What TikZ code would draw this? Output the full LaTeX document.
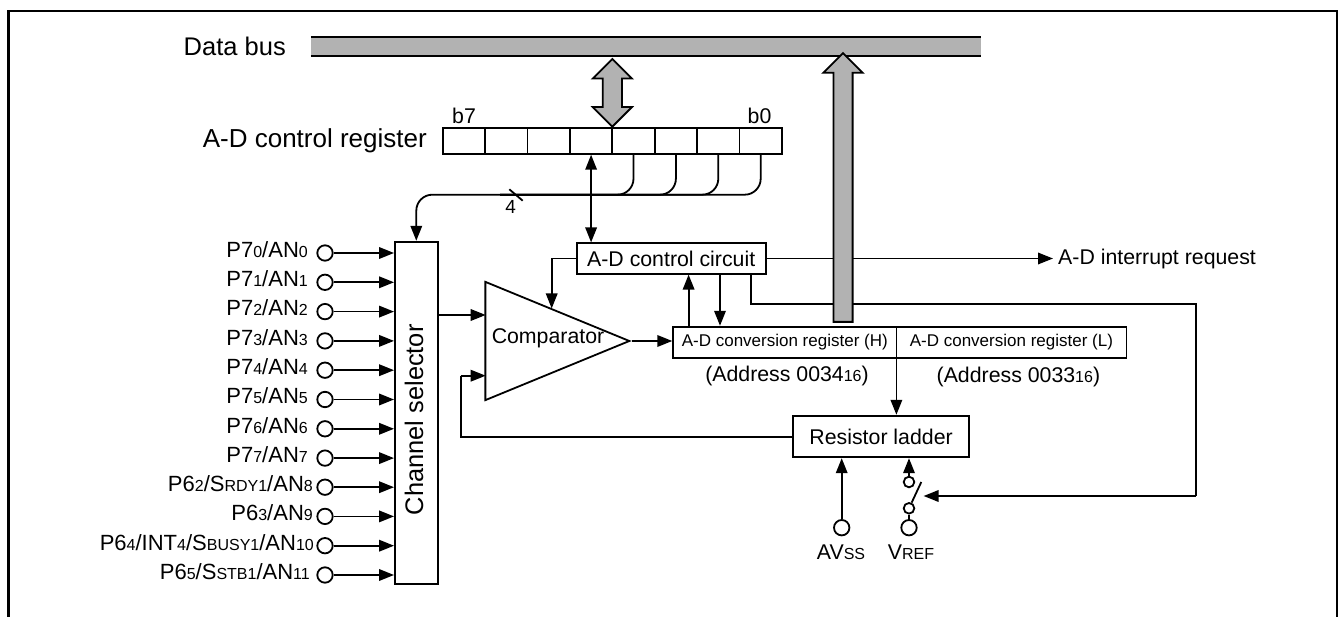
\documentclass[tikz,border=0pt]{standalone}
\usepackage{fontspec}
\setmainfont{Liberation Sans}
\usetikzlibrary{arrows.meta,positioning,calc,shapes.geometric,shapes.arrows}
\definecolor{adGray}{HTML}{B2B2B2}
\newcommand{\subtxt}[1]{{\fontsize{16}{16}\selectfont #1}}

\begin{document}
\begin{tikzpicture}[
  x=1pt,y=-1pt,
  font=\fontsize{21.3}{24}\selectfont,
  frameline/.style={line width=2.6pt,line cap=butt,line join=miter},
  block/.style={draw,line width=1.8pt,fill=white,inner sep=0pt},
  cell/.style={block,minimum width=42.4pt,minimum height=25.7pt},
  sig/.style={line width=1.8pt,-{Triangle[length=15pt,width=11.5pt]}},
  dblsig/.style={line width=1.8pt,{Triangle[length=15pt,width=11.5pt]}-{Triangle[length=15pt,width=11.5pt]}},
  wire/.style={line width=1.8pt},
  pinhole/.style={circle,draw,line width=1.8pt,fill=white,minimum size=15.4pt,inner sep=0pt},
  contact/.style={circle,draw,line width=1.8pt,fill=white,minimum size=10.6pt,inner sep=0pt},
  fatup/.style={single arrow,draw,line width=1.8pt,fill=adGray,rotate=90,inner sep=8.7pt,minimum height=268.7pt,minimum width=38pt,single arrow head extend=10pt},
  fatboth/.style={double arrow,draw,line width=1.8pt,fill=adGray,rotate=90,inner sep=8.7pt,minimum height=67.7pt,minimum width=38pt,double arrow head extend=10pt},
  pinlabel/.style={anchor=base east,inner sep=0pt,font=\fontsize{22}{24}\selectfont},
  bigtext/.style={inner sep=0pt,font=\fontsize{25.5}{28}\selectfont},
  regtext/.style={font=\fontsize{17}{20}\selectfont}
]
\useasboundingbox (0,0) rectangle (1339,617);
\draw[frameline] (8.5,617) -- (8.5,11) -- (1337,11) -- (1337,617);

\node[bigtext,anchor=east] (buslabel) at (286,46.5) {Data bus};
\node[fill=adGray,inner sep=0pt,minimum width=670pt,minimum height=18.7pt] (bus) at (646,46.4) {};
\draw[wire] (bus.north west) -- (bus.north east);
\draw[wire] (bus.south west) -- (bus.south east);

\node[bigtext,anchor=east,font=\fontsize{26}{28}\selectfont] (reglabel) at (427,141) {A-D control register};
\foreach \i in {7,...,0} {\node[cell] (bit\i) at ({463.9+42.4*(7-\i)},141) {};}
\node (b7label) at (464,116) {b7};
\node (b0label) at (759.5,116) {b0};

\node[block,minimum width=42.7pt,minimum height=342.6pt] (chsel) at (416.3,413) {};
\node[rotate=90,inner sep=0pt,font=\fontsize{25.4}{28}\selectfont] (chtext) at (414,419.7) {Channel selector};

\node[block,minimum width=189pt,minimum height=30.4pt] (adctl) at (671.2,258.5) {A-D control circuit};
\node[isosceles triangle,isosceles triangle stretches,draw,line width=1.8pt,fill=white,inner sep=0pt,minimum height=144pt,minimum width=118.3pt,anchor=apex] (cmp) at (631.7,341) {};
\node (cmptext) at (548,338) {Comparator};

\node[block,regtext,minimum width=223.2pt,minimum height=31pt] (regh) at (784.8,342.2) {A-D conversion register (H)};
\node[block,regtext,minimum width=230pt,minimum height=31pt] (regl) at (1011.4,342.2) {A-D conversion register (L)};
\node (addrh) at (787,375.7) {(Address 0034\subtxt{16})};
\node (addrl) at (1018.4,376.5) {(Address 0033\subtxt{16})};

\node[block,minimum width=175.8pt,minimum height=41.6pt] (ladder) at (881.1,436.5) {Resistor ladder};
\node[inner sep=5pt,anchor=west] (intreq) at (1053,258.5) {A-D interrupt request};

\node[pinhole] (avss) at (841.7,527.7) {};
\node[pinhole] (vref) at (909,527.7) {};
\node[contact] (swtop) at (909,482) {};
\node[contact] (swbot) at (909,508.3) {};
\node (avsslabel) at (841,552) {AV\subtxt{SS}};
\node (vreflabel) at (911,552) {V\subtxt{REF}};

\coordinate (rail) at (500,194.7);
\coordinate (cmpinA) at (485.7,315);
\coordinate (cmpinB) at (485.7,375.7);
\coordinate (cmpturn) at (460.7,437);
\coordinate (ctlturn) at (551.7,258.5);
\coordinate (cmptop) at (551.7,308.5);
\coordinate (fbup) at (688.6,327);
\coordinate (fbdown) at (720,274);
\coordinate (ctlout) at (751,304);
\coordinate (swturn) at (1196,304);
\coordinate (swback) at (1196,496);
\coordinate (swtip) at (923.6,496);
\coordinate (swblade) at (921.3,482);
\coordinate (regdiv) at (896.4,358);

\foreach \i/\y/\xr/\txt in {
  0/253/308/{P7\subtxt{0}/AN\subtxt{0}},
  1/282.3/308/{P7\subtxt{1}/AN\subtxt{1}},
  2/311.6/308/{P7\subtxt{2}/AN\subtxt{2}},
  3/340.9/308/{P7\subtxt{3}/AN\subtxt{3}},
  4/370.2/308/{P7\subtxt{4}/AN\subtxt{4}},
  5/399.5/308/{P7\subtxt{5}/AN\subtxt{5}},
  6/428.8/308/{P7\subtxt{6}/AN\subtxt{6}},
  7/458.1/308/{P7\subtxt{7}/AN\subtxt{7}},
  8/487.2/313/{P6\subtxt{2}/S\subtxt{RDY1}/AN\subtxt{8}},
  9/516.4/313/{P6\subtxt{3}/AN\subtxt{9}},
  10/545.7/314/{P6\subtxt{4}/INT\subtxt{4}/S\subtxt{BUSY1}/AN\subtxt{10}},
  11/575/310/{P6\subtxt{5}/S\subtxt{STB1}/AN\subtxt{11}}} {
  \node[pinhole] (pin\i) at (325,\y) {};
  \node[pinlabel] (pintext\i) at (\xr,{\y+4.4}) {\txt};
  \draw[sig] (pin\i) -- (pin\i -| chsel.west);
}

\draw[sig,rounded corners=16pt] (bit0.south) -- (bit0.south |- rail) -- (chsel.north |- rail) -- (chsel.north);
\foreach \i in {1,2,3} {\draw[wire,rounded corners=16pt] (bit\i.south) -- (bit\i.south |- rail) -- (rail);}
\draw[line width=1.8pt] (509.3,189.3) -- (522.7,200.7);
\node[inner sep=0pt,font=\fontsize{19}{20}\selectfont] (railcount) at (510.7,207) {4};

\draw[dblsig] (bit4.south) -- (bit4.south |- adctl.north);
\draw[wire] (adctl.west) -- (ctlturn);
\draw[sig] (ctlturn) -- (cmptop);
\draw[sig] (chsel.east |- cmpinA) -- (cmpinA);
\draw[wire] (ladder.west |- cmpturn) -- (cmpturn) -- (cmpturn |- cmpinB);
\draw[sig] (cmpturn |- cmpinB) -- (cmpinB);
\draw[sig] (cmp.apex) -- (regh.west |- cmp.apex);
\draw[sig] (fbup) -- (fbup |- adctl.south);
\draw[sig] (fbdown) -- (fbdown |- regh.north);
\draw[sig] (adctl.east) -- (intreq.west);
\draw[wire] (adctl.south -| ctlout) -- (ctlout) -- (swturn) -- (swback);
\draw[sig] (swback) -- (swtip);
\draw[sig] (regdiv) -- (regdiv |- ladder.north);
\draw[sig] (avss) -- (avss |- ladder.south);
\draw[sig] (swtop) -- (swtop |- ladder.south);
\draw[wire] (swbot) -- (vref);
\draw[wire] (swbot) -- (swblade);

\node[fatup] (busin) at (843,192.35) {};
\node[fatboth] (busio) at (612.3,92.85) {};
\end{tikzpicture}
\end{document}
